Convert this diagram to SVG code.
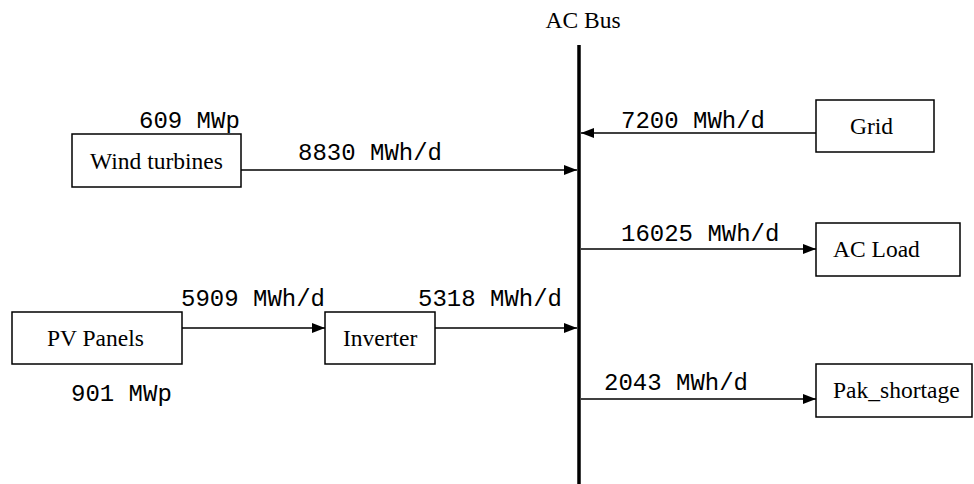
<svg xmlns="http://www.w3.org/2000/svg" width="974" height="484" viewBox="0 0 974 484">
<style>
.box{fill:#fff;stroke:#000;stroke-width:1.5}
.lbl{font-family:"Liberation Serif","Times New Roman",serif;font-size:23.5px;fill:#000}
.num{font-family:"Liberation Mono","Courier New",monospace;font-size:24px;fill:#000}
.edge{stroke:#000;stroke-width:1.6;fill:none}
.bus{stroke:#000;stroke-width:3.5}
</style>
<defs>
<marker id="ah" markerUnits="userSpaceOnUse" markerWidth="14" markerHeight="10" refX="13" refY="5" orient="auto">
<path d="M0,0 L13,5 L0,10 Z" fill="#000"/>
</marker>
</defs>
<rect width="974" height="484" fill="#fff"/>
<g id="bus">
<text class="lbl" x="583" y="28" text-anchor="middle">AC Bus</text>
<line class="bus" x1="579" y1="45" x2="579" y2="484"/>
</g>
<g id="connectors">
<line class="edge" x1="241" y1="170" x2="577" y2="170" marker-end="url(#ah)"/>
<line class="edge" x1="816" y1="133" x2="581" y2="133" marker-end="url(#ah)"/>
<line class="edge" x1="581" y1="249" x2="816" y2="249" marker-end="url(#ah)"/>
<line class="edge" x1="182" y1="328" x2="325" y2="328" marker-end="url(#ah)"/>
<line class="edge" x1="435" y1="328" x2="577" y2="328" marker-end="url(#ah)"/>
<line class="edge" x1="581" y1="399" x2="816" y2="399" marker-end="url(#ah)"/>
<text class="num" x="298" y="160">8830 MWh/d</text>
<text class="num" x="621" y="128">7200 MWh/d</text>
<text class="num" x="621" y="241">16025 MWh/d</text>
<text class="num" x="181" y="306">5909 MWh/d</text>
<text class="num" x="418" y="306">5318 MWh/d</text>
<text class="num" x="604" y="390">2043 MWh/d</text>
</g>
<g id="wind">
<rect class="box" x="72" y="134" width="169" height="53"/>
<text class="lbl" x="90" y="169">Wind turbines</text>
<text class="num" x="139" y="128">609 MWp</text>
</g>
<g id="grid">
<rect class="box" x="816" y="100" width="118" height="52"/>
<text class="lbl" x="850" y="134">Grid</text>
</g>
<g id="acload">
<rect class="box" x="816" y="223" width="144" height="53"/>
<text class="lbl" x="833" y="257">AC Load</text>
</g>
<g id="pv">
<rect class="box" x="12" y="312" width="170" height="52"/>
<text class="lbl" x="47" y="346">PV Panels</text>
<text class="num" x="71" y="401">901 MWp</text>
</g>
<g id="inverter">
<rect class="box" x="325" y="312" width="110" height="52"/>
<text class="lbl" x="343" y="346">Inverter</text>
</g>
<g id="pak">
<rect class="box" x="816" y="364" width="156" height="53"/>
<text class="lbl" x="833" y="398">Pak_shortage</text>
</g>
</svg>
